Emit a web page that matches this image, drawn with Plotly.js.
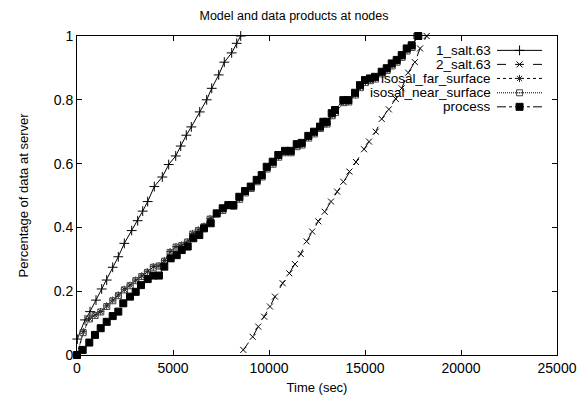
<!DOCTYPE html>
<html>
<head>
<meta charset="utf-8">
<script src="https://cdn.plot.ly/plotly-3.0.1.min.js"></script>
<style>html,body{margin:0;padding:0;background:#fff}#chart{width:588px;height:401px}</style>
</head>
<body>
<div id="chart"></div>
<script>
const seriesNames = ["1_salt.63", "2_salt.63", "isosal_far_surface", "isosal_near_surface", "process"];

const salt1X = [15, 417, 677, 990, 1286, 1547, 1859, 2151, 2464, 2849, 3161, 3422, 3682, 4026, 4443, 4776, 5141, 5401, 5693, 5953, 6391, 6755, 7016, 7380, 7672, 8057, 8318, 8526];
const salt1Y = [0.05, 0.11, 0.136, 0.172, 0.207, 0.235, 0.275, 0.308, 0.350, 0.390, 0.421, 0.451, 0.481, 0.528, 0.558, 0.597, 0.624, 0.655, 0.689, 0.715, 0.762, 0.80, 0.836, 0.878, 0.918, 0.947, 0.977, 1.0];

const salt2X = [8660, 9150, 9440, 9750, 10050, 10310, 10710, 11060, 11350, 11650, 11960, 12250, 12570, 12900, 13230, 13550, 13870, 14190, 14530, 14950, 15210, 15560, 15870, 16240, 16600, 16910, 17250, 17600, 17870, 18210];
const salt2Y = [0.016, 0.057, 0.089, 0.12, 0.152, 0.183, 0.225, 0.256, 0.285, 0.317, 0.356, 0.387, 0.419, 0.449, 0.481, 0.512, 0.543, 0.575, 0.605, 0.645, 0.669, 0.70, 0.74, 0.77, 0.803, 0.836, 0.885, 0.918, 0.961, 1.0];

const farX = [0, 330, 640, 937, 1234, 1547, 1859, 2151, 2464, 2760, 3057, 3370, 3661, 3974, 4270, 4550, 4844, 5156, 5453, 5745, 6026, 6318, 6615, 6927, 7276, 7589, 7880, 8160, 8470, 8770, 9070, 9380, 9640, 9900, 10210, 10500, 10850, 11150, 11460, 11720, 12060, 12360, 12670, 12850, 13020, 13290, 13460, 13890, 14150, 14500, 14760, 15020, 15280, 15540, 15890, 16150, 16410, 16670, 16930, 17190, 17450, 17700];
const farY = [0, 0.073, 0.115, 0.125, 0.136, 0.154, 0.172, 0.188, 0.206, 0.219, 0.235, 0.248, 0.261, 0.277, 0.280, 0.296, 0.324, 0.340, 0.345, 0.355, 0.381, 0.392, 0.404, 0.428, 0.444, 0.455, 0.470, 0.468, 0.490, 0.510, 0.524, 0.545, 0.560, 0.585, 0.600, 0.622, 0.636, 0.636, 0.655, 0.660, 0.682, 0.695, 0.712, 0.726, 0.726, 0.752, 0.762, 0.793, 0.795, 0.817, 0.840, 0.856, 0.862, 0.867, 0.883, 0.894, 0.908, 0.920, 0.935, 0.955, 0.966, 1.0];

const nearX = [0, 320, 650, 945, 1240, 1550, 1865, 2160, 2470, 2770, 3065, 3375, 3670, 3980, 4280, 4560, 4850, 5160, 5460, 5750, 6030, 6325, 6620, 6935, 7280, 7595, 7885, 8165, 8475, 8775, 9075, 9385, 9645, 9905, 10215, 10505, 10855, 11155, 11465, 11725, 12065, 12365, 12675, 12855, 13025, 13295, 13465, 13895, 14155, 14505, 14765, 15025, 15285, 15545, 15895, 16155, 16415, 16675, 16935, 17195, 17455, 17700];
const nearY = [0, 0.070, 0.113, 0.124, 0.135, 0.152, 0.170, 0.186, 0.204, 0.217, 0.233, 0.246, 0.259, 0.275, 0.279, 0.294, 0.321, 0.338, 0.343, 0.354, 0.379, 0.390, 0.402, 0.426, 0.442, 0.453, 0.468, 0.466, 0.488, 0.508, 0.522, 0.543, 0.558, 0.583, 0.598, 0.620, 0.634, 0.634, 0.653, 0.658, 0.680, 0.693, 0.710, 0.724, 0.724, 0.750, 0.760, 0.791, 0.793, 0.815, 0.838, 0.854, 0.860, 0.865, 0.881, 0.892, 0.906, 0.918, 0.933, 0.953, 0.964, 1.0];

const procX = [0, 296, 640, 937, 1234, 1547, 1859, 2151, 2411, 2760, 3057, 3333, 3682, 3974, 4270, 4547, 4880, 5193, 5453, 5766, 6057, 6370, 6615, 6964, 7276, 7589, 7880, 8141, 8453, 8750, 9047, 9359, 9620, 9880, 10193, 10484, 10833, 11130, 11443, 11703, 12047, 12344, 12656, 12828, 13000, 13266, 13437, 13870, 14130, 14479, 14740, 15000, 15260, 15521, 15870, 16130, 16391, 16650, 16911, 17172, 17432, 17776];
const procY = [0, 0.016, 0.039, 0.063, 0.084, 0.104, 0.122, 0.136, 0.162, 0.183, 0.198, 0.219, 0.238, 0.249, 0.249, 0.277, 0.303, 0.313, 0.329, 0.340, 0.366, 0.376, 0.397, 0.413, 0.444, 0.460, 0.470, 0.470, 0.496, 0.514, 0.528, 0.549, 0.564, 0.590, 0.606, 0.627, 0.640, 0.640, 0.661, 0.665, 0.687, 0.700, 0.716, 0.731, 0.731, 0.758, 0.768, 0.799, 0.799, 0.822, 0.846, 0.862, 0.867, 0.872, 0.888, 0.899, 0.914, 0.925, 0.940, 0.961, 0.971, 1.0];

const xTicks = [0, 5000, 10000, 15000, 20000, 25000];
const yTicks = [0, 0.2, 0.4, 0.6, 0.8, 1];
const yTickText = ["0", "0.2", "0.4", "0.6", "0.8", "1"];

const styles = [
  {dash: "solid", symbol: "cross-thin-open", size: 7, color: "#000"},
  {dash: "dash", symbol: "x-thin-open", size: 6, color: "#000"},
  {dash: "dot", symbol: "asterisk-open", size: 6, color: "#222"},
  {dash: "1px,1px", symbol: "square-open-dot", size: 6, color: "#444"},
  {dash: "dashdot", symbol: "square", size: 7, color: "#000"}
];
const xs = [salt1X, salt2X, farX, nearX, procX];
const ys = [salt1Y, salt2Y, farY, nearY, procY];

const traces = [];
for (let i = 0; i < 5; i++) {
  traces.push({
    x: xs[i], y: ys[i], name: seriesNames[i], type: "scatter", mode: "lines+markers",
    line: {color: "#000", width: 1, dash: styles[i].dash},
    marker: {symbol: styles[i].symbol, size: styles[i].size, color: styles[i].color,
             line: {color: styles[i].color, width: 1}},
    cliponaxis: false, showlegend: false
  });
}
// legend keys drawn on hidden overlay axes (fraction of plot area)
const legY = [0.955, 0.911, 0.867, 0.822, 0.778];
const legX0 = 0.875, legX1 = 0.969;
const annotations = [];
for (let i = 0; i < 5; i++) {
  traces.push({
    x: [legX0, legX1], y: [legY[i], legY[i]], xaxis: "x2", yaxis: "y2", mode: "lines",
    line: {color: "#000", width: 1, dash: styles[i].dash}, showlegend: false, hoverinfo: "skip"
  });
  traces.push({
    x: [(legX0 + legX1) / 2], y: [legY[i]], xaxis: "x2", yaxis: "y2", mode: "markers",
    marker: {symbol: styles[i].symbol, size: styles[i].size, color: styles[i].color,
             line: {color: styles[i].color, width: 1}},
    showlegend: false, hoverinfo: "skip"
  });
  annotations.push({
    xref: "paper", yref: "paper", x: 0.867, y: legY[i], xanchor: "right", yanchor: "middle",
    text: seriesNames[i], showarrow: false, font: {size: 13.5, color: "#000"}
  });
}

const layout = {
  width: 588, height: 401,
  margin: {l: 77, r: 31, t: 36, b: 46},
  paper_bgcolor: "#fff", plot_bgcolor: "#fff",
  font: {family: "Liberation Sans, Arial, sans-serif", size: 13, color: "#000"},
  title: {text: "Model and data products at nodes", x: 0.5, xanchor: "center", y: 0.96, yanchor: "middle", font: {size: 12.5}},
  showlegend: false,
  xaxis: {
    range: [0, 25000], tickvals: xTicks, ticktext: xTicks.map(String),
    ticks: "inside", ticklen: 5, tickcolor: "#000", showline: true, linecolor: "#000", linewidth: 1,
    mirror: "ticks", showgrid: false, zeroline: false, tickfont: {size: 14},
    title: {text: "Time (sec)", standoff: 8, font: {size: 13}}
  },
  yaxis: {
    range: [0, 1], tickvals: yTicks, ticktext: yTickText,
    ticks: "inside", ticklen: 5, tickcolor: "#000", showline: true, linecolor: "#000", linewidth: 1,
    mirror: "ticks", showgrid: false, zeroline: false, tickfont: {size: 14},
    title: {text: "Percentage of data at server", standoff: 22, font: {size: 13}}
  },
  xaxis2: {overlaying: "x", range: [0, 1], visible: false, anchor: "y2"},
  yaxis2: {overlaying: "y", range: [0, 1], visible: false, anchor: "x2"},
  annotations: annotations
};

Plotly.newPlot("chart", traces, layout, {staticPlot: true, displayModeBar: false});
</script>
</body>
</html>
